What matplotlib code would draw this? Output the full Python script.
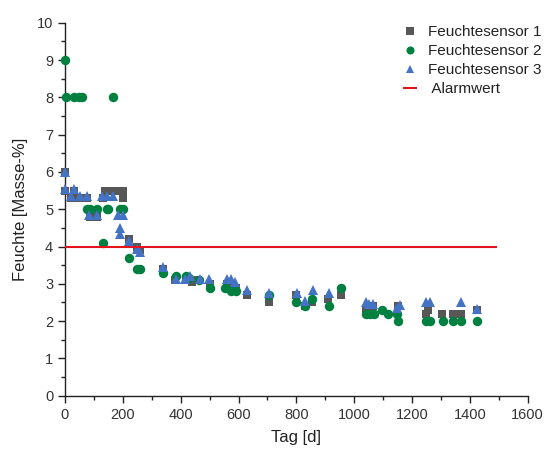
import matplotlib
matplotlib.use("Agg")
import matplotlib.pyplot as plt
from matplotlib.ticker import MultipleLocator

plt.rcParams['font.family'] = ['Liberation Sans', 'DejaVu Sans']

# Sensor 1 (grey squares)
s1_x = [0, 0, 20, 30, 50, 75, 85, 110, 130, 140, 150, 160, 170, 180, 190, 200, 200,
        220, 250, 260, 340, 380, 420, 440, 460, 500, 560, 575, 590, 630, 705, 800,
        830, 855, 910, 955, 1040, 1065, 1150, 1250, 1255, 1305, 1340, 1370, 1425]
s1_y = [6.0, 5.5, 5.3, 5.5, 5.3, 5.3, 4.8, 4.8, 5.3, 5.5, 5.5, 5.5, 5.5, 5.5, 5.5, 5.5, 5.3,
        4.2, 4.0, 3.9, 3.4, 3.1, 3.1, 3.05, 3.1, 3.0, 3.0, 3.0, 2.9, 2.7, 2.5, 2.7,
        2.4, 2.5, 2.6, 2.7, 2.3, 2.4, 2.4, 2.2, 2.3, 2.2, 2.2, 2.2, 2.3]

# Sensor 2 (green circles)
s2_x = [0, 5, 30, 50, 60, 165, 75, 85, 110, 145, 150, 190, 200, 130, 220, 250, 260,
        340, 385, 420, 430, 465, 500, 555, 575, 590, 705, 800, 830, 855, 913, 954,
        1040, 1055, 1070, 1097, 1116, 1147, 1152, 1250, 1262, 1306, 1340, 1370, 1426]
s2_y = [9.0, 8.0, 8.0, 8.0, 8.0, 8.0, 5.0, 5.0, 5.0, 5.0, 5.0, 5.0, 5.0, 4.1, 3.7, 3.4, 3.4,
        3.3, 3.2, 3.2, 3.15, 3.1, 2.9, 2.9, 2.8, 2.8, 2.7, 2.5, 2.4, 2.6, 2.4, 2.9,
        2.2, 2.2, 2.2, 2.3, 2.2, 2.2, 2.0, 2.0, 2.0, 2.0, 2.0, 2.0, 2.0]

# Sensor 3 (blue triangles)
s3_x = [0, 0, 20, 32, 52, 75, 84, 110, 127, 146, 167, 182, 202, 190, 190, 221, 248, 259,
        340, 384, 416, 434, 467, 497, 559, 574, 588, 628, 707, 801, 830, 856, 913,
        1040, 1050, 1066, 1147, 1158, 1250, 1262, 1370, 1426]
s3_y = [6.0, 5.55, 5.35, 5.55, 5.35, 5.35, 4.85, 4.85, 5.35, 5.35, 5.35, 4.85, 4.85, 4.5, 4.33, 4.15, 3.93, 3.84,
        3.45, 3.13, 3.13, 3.22, 3.13, 3.13, 3.13, 3.13, 3.04, 2.83, 2.75, 2.75, 2.55, 2.83, 2.75,
        2.52, 2.45, 2.45, 2.34, 2.43, 2.52, 2.52, 2.52, 2.32]

alarm_x = [0, 1490]
alarm_y = [4, 4]

labels = ['Feuchtesensor 1', 'Feuchtesensor 2', 'Feuchtesensor 3', ' Alarmwert']

fig = plt.figure(figsize=(5.55, 4.55), dpi=100)
ax = fig.add_axes([0.1171, 0.1303, 0.8337, 0.8197])

ax.plot(s1_x, s1_y, 's', color='#575757', markersize=6.2, markeredgewidth=0, label=labels[0], clip_on=False, zorder=3)
ax.plot(s2_x, s2_y, 'o', color='#008040', markersize=6.8, markeredgewidth=0, label=labels[1], clip_on=False, zorder=4)
ax.plot(s3_x, s3_y, '^', color='#4472c4', markersize=7.5, markeredgewidth=0, label=labels[2], clip_on=False, zorder=5)
ax.plot(alarm_x, alarm_y, '-', color='#e3141c', linewidth=1.5, label=labels[3], zorder=6)

ax.set_xlim(0, 1600)
ax.set_ylim(0, 10)
ax.xaxis.set_major_locator(MultipleLocator(200))
ax.xaxis.set_minor_locator(MultipleLocator(100))
ax.yaxis.set_major_locator(MultipleLocator(1))
ax.yaxis.set_minor_locator(MultipleLocator(0.5))
for s in ['top', 'right']:
    ax.spines[s].set_visible(False)
for s in ['left', 'bottom']:
    ax.spines[s].set_linewidth(1.0)
    ax.spines[s].set_color('#222222')
ax.tick_params(which='major', direction='out', length=5, width=1, colors='#222222', labelcolor='#333333', labelsize=10.5)
ax.tick_params(which='minor', direction='out', length=3, width=1, colors='#222222')

ax.set_xlabel('Tag [d]', fontsize=12, color='#222222', labelpad=6)
ax.set_ylabel('Feuchte [Masse-%]', fontsize=12, color='#222222', labelpad=6)

leg = ax.legend(loc='upper right', bbox_to_anchor=(1.06, 1.03), frameon=False, fontsize=11,
                handlelength=0.8, handletextpad=0.8, labelspacing=0.32, markerscale=0.85)
for t in leg.get_texts():
    t.set_color('#222222')

fig.savefig('out.png', dpi=100)
